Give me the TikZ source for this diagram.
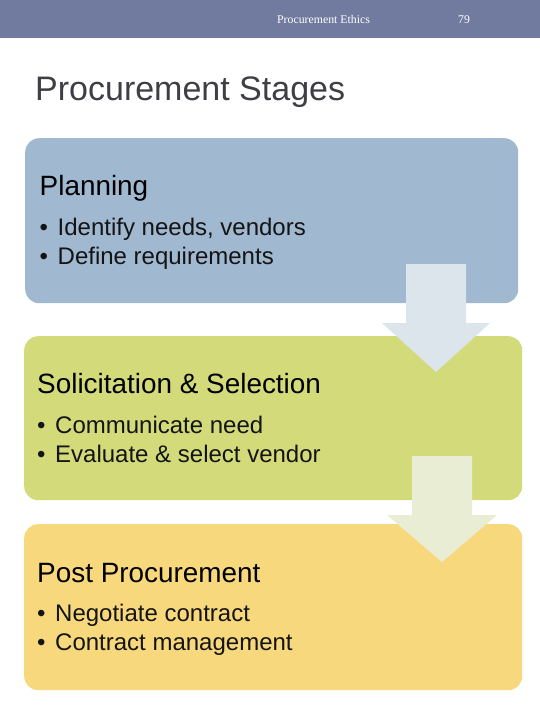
\documentclass[tikz,border=0pt]{standalone}
\usepackage{fontspec}
\setmainfont{Liberation Sans}
\newfontfamily\barfont{Liberation Serif}
\usetikzlibrary{positioning,calc}

\definecolor{barblue}{RGB}{113,123,160}
\definecolor{titlegray}{RGB}{62,62,68}
\definecolor{planblue}{RGB}{160,184,208}
\definecolor{solgreen}{RGB}{210,218,122}
\definecolor{postyellow}{RGB}{248,216,124}
\definecolor{arrowblue}{RGB}{220,228,236}
\definecolor{arrowgreen}{RGB}{233,237,212}

\newcommand{\stageitem}[1]{\makebox[18bp][l]{\textbullet}#1}

\begin{document}
\begin{tikzpicture}[
  x=1bp, y=-1bp,
  bar/.style={fill=barblue, inner sep=0pt, anchor=north west, minimum width=540bp, minimum height=38bp},
  bartext/.style={font=\barfont\fontsize{11.8bp}{14bp}\selectfont, text=white, inner sep=0pt},
  title/.style={font=\fontsize{34bp}{40bp}\selectfont, text=titlegray, inner sep=0pt, anchor=base west},
  stage/.style={rounded corners=14bp, inner sep=0pt, anchor=north west},
  stagehead/.style={font=\fontsize{27.9bp}{32bp}\selectfont, text=black, inner sep=0pt, anchor=base west},
  stageitem/.style={font=\fontsize{24bp}{28bp}\selectfont, text=black!92, inner sep=0pt, anchor=base west},
]
\useasboundingbox (0,0) rectangle (540,720);

% ---- header bar and title
\node[bar] (bar) at (0,0) {};
\node[bartext] (barname) at (323.5,19.5) {Procurement Ethics};
\node[bartext] (barpage) at (464,19.5) {79};
\node[title] (title) at (35,100.5) {Procurement Stages};

% ---- the three stages
\node[stage, fill=planblue, minimum width=493bp, minimum height=165bp] (plan) at (25,138) {};
\node[stage, fill=solgreen, minimum width=498bp, minimum height=164bp] (sol) at (24,336) {};
\node[stage, fill=postyellow, minimum width=498bp, minimum height=166bp] (post) at (24,524) {};

% ---- block arrows between stages
\coordinate (arr1) at (436,264);
\fill[arrowblue] (arr1) ++(-30,0) -- ++(60,0) -- ++(0,59) -- ++(24,0) -- ++(-54,49) -- ++(-54,-49) -- ++(24,0) -- cycle;
\coordinate (arr2) at (442,456);
\fill[arrowgreen] (arr2) ++(-30,0) -- ++(60,0) -- ++(0,59) -- ++(25,0) -- ++(-55,47) -- ++(-55,-47) -- ++(25,0) -- cycle;

% ---- stage texts
\node[stagehead] (planhead) at ([xshift=14.5bp, yshift=-57bp]plan.north west) {Planning};
\node[stageitem] (plan1) at ([yshift=-40.5bp]planhead.base west) {\stageitem{Identify needs, vendors}};
\node[stageitem] (plan2) at ([yshift=-28.7bp]plan1.base west) {\stageitem{Define requirements}};

\node[stagehead] (solhead) at ([xshift=13bp, yshift=-57bp]sol.north west) {Solicitation \& Selection};
\node[stageitem] (sol1) at ([yshift=-40.5bp]solhead.base west) {\stageitem{Communicate need}};
\node[stageitem] (sol2) at ([yshift=-28.7bp]sol1.base west) {\stageitem{Evaluate \& select vendor}};

\node[stagehead] (posthead) at ([xshift=13bp, yshift=-58bp]post.north west) {Post Procurement};
\node[stageitem] (post1) at ([yshift=-39.5bp]posthead.base west) {\stageitem{Negotiate contract}};
\node[stageitem] (post2) at ([yshift=-28.7bp]post1.base west) {\stageitem{Contract management}};
\end{tikzpicture}
\end{document}
